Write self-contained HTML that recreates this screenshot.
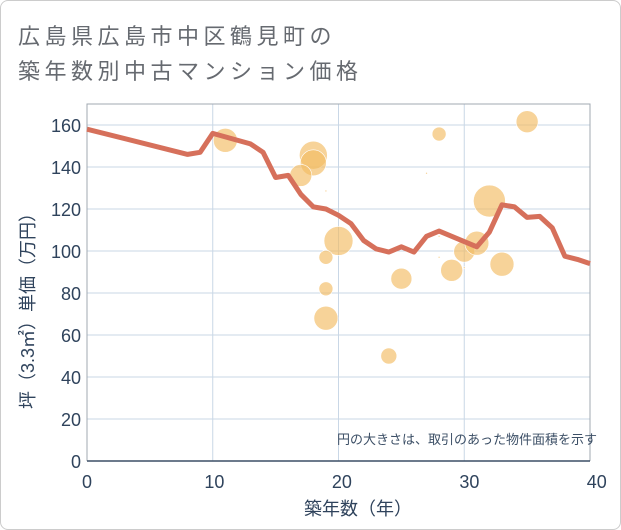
<!DOCTYPE html>
<html><head><meta charset="utf-8"><style>
body{margin:0;background:#fff}
#card{position:absolute;left:0;top:0;width:619px;height:528px;border:1px solid #ccc;border-radius:8px;background:#fff;overflow:hidden}
.title{position:absolute;left:17px;font:22px "Liberation Sans","Noto Sans CJK JP",sans-serif;color:#666a70;letter-spacing:4.5px;white-space:nowrap}
svg text{font-family:"Liberation Sans","Noto Sans CJK JP",sans-serif}
</style></head><body>
<div id="card">
<div class="title" style="top:18px">広島県広島市中区鶴見町の</div>
<div class="title" style="top:53px">築年数別中古マンション価格</div>
<svg id="chart" width="621" height="530" style="position:absolute;left:0;top:0"></svg>
</div>
<script>
const lineYears=[0,8,9,10,13,14,15,16,17,18,19,20,21,22,23,24,25,26,27,28,29,30,31,32,33,34,35,36,37,38,39,40];
const lineValues=[158,146,147,156,151,147,135,136,127,121,120,117,113,105,101,99.5,102,99.5,107,109.5,107,104.5,102,109,122,121,116,116.5,111,97.5,96,94];
const bubbleYears=[11,18,18,17,19,20,19,19,19,24,25,27,28,28,28,29,30,30,31,32,33,35];
const bubbleValues=[152.7,145.6,142,136,128.6,104.8,97,82,68,50,86.8,137,155.7,107,97,90.8,99.7,92,103.7,123.8,93.7,161.6];
const bubbleRadii=[12,14,13,11,1,14.5,7,7,12,8,10.5,1,7,1,1,11,10.5,1,12,16,12,11];
const yTicks=[0,20,40,60,80,100,120,140,160];
const xTicks=[0,10,20,30,40];
const L=86,R=589,T=103,B=460;
const xs=v=>L+(v/40)*(R-L);
const ys=v=>B-v*2.1;
const svg=document.getElementById('chart');
const NS='http://www.w3.org/2000/svg';
function mk(t,a){const e=document.createElementNS(NS,t);for(const k in a)e.setAttribute(k,a[k]);svg.appendChild(e);return e;}
yTicks.forEach(v=>{
 const g=mk('line',{x1:L,x2:R,y1:ys(v),y2:ys(v),stroke:'#c9d7e6','stroke-width':1});
 
 
 const t=mk('text',{x:L-6,y:ys(v)+7,'text-anchor':'end','font-size':18,fill:'#2f435c'});
 t.textContent=v;
 
 
});
xTicks.forEach(v=>{
 const g=mk('line',{x1:xs(v),x2:xs(v),y1:T,y2:B,stroke:'#c9d7e6','stroke-width':1});
 
 
 const t=mk('text',{x:xs(v)+v*0.17,y:B+27,'text-anchor':'middle','font-size':18,fill:'#2f435c'});
 t.textContent=v;
 
 
});
const frame=mk('path',{d:`M${L},${B}V${T}H${R}V${B}`,fill:'none',stroke:'#a0a8b2','stroke-width':1});


const ax=mk('line',{x1:L,x2:R,y1:B,y2:B,stroke:'#3c4f66','stroke-width':1.5});


bubbleYears.forEach((yr,i)=>{
 const c=mk('circle',{cx:xs(yr),cy:ys(bubbleValues[i]),r:bubbleRadii[i],fill:'#f2bb62','fill-opacity':0.65,stroke:'#fff','stroke-width':0.6});
 
 
});
const pl=mk('polyline',{points:lineYears.map((y,i)=>xs(y)+','+ys(lineValues[i])).join(' '),fill:'none',stroke:'#d6705b','stroke-width':5,'stroke-linejoin':'round'});


const note=mk('text',{x:596,y:443,'text-anchor':'end','font-size':13,fill:'#3c4f66'});
note.textContent='円の大きさは、取引のあった物件面積を示す';


const xt=mk('text',{x:357,y:514,'text-anchor':'middle','font-size':18,fill:'#2f435c'});
xt.textContent='築年数（年）';


const yt=mk('text',{x:0,y:0,'text-anchor':'middle','font-size':18,fill:'#2f435c',transform:`translate(33,${(T+B)/2+24}) rotate(-90)`});
yt.textContent='坪（3.3㎡）単価（万円）';


</script>
</body></html>
